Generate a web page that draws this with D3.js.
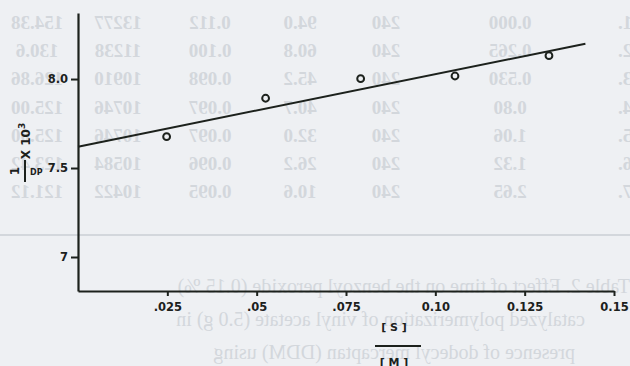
<!DOCTYPE html>
<html>
<head>
<meta charset="utf-8">
<script src="https://cdn.jsdelivr.net/npm/d3@7"></script>
<style>
  html, body { margin: 0; padding: 0; background: #eef0f3; }
  #chart { width: 630px; height: 366px; }
</style>
</head>
<body>
<div id="chart"></div>
<script>
// values
const sOverM = [0.0248, 0.0525, 0.0791, 0.1055, 0.1318];
const invDP = [7.676, 7.892, 8.002, 8.017, 8.131];

// fitted straight line, end points
const fitX = [0, 0.142];
const fitY = [7.62, 8.198];

const xTicks = [0.025, 0.05, 0.075, 0.10, 0.125, 0.15];
const xTickLabels = ['.025', '.05', '.075', '0.10', '0.125', '0.15'];
const yTicks = [7, 7.5, 8];
const yTickLabels = ['7', '7.5', '8.0'];

// show-through from the back of the page (mirrored)
const backRows = [
	['1.', '0.000', '240', '94.0', '0.112', '13277', '154.38'],
	['2.', '0.265', '240', '60.8', '0.100', '11238', '130.6'],
	['3.', '0.530', '240', '45.2', '0.098', '10910', '126.86'],
	['4.', '0.80', '240', '40.7', '0.097', '10746', '125.00'],
	['5.', '1.06', '240', '32.0', '0.097', '10746', '125.00'],
	['6.', '1.32', '240', '26.2', '0.096', '10584', '123.42'],
	['7.', '2.65', '240', '10.6', '0.095', '10422', '121.12']
];
const backCaption = [
	'Table 2. Effect of time on the benzoyl peroxide (0.15 %)',
	'catalyzed polymerization of vinyl acetate (5.0 g) in',
	'presence of dodecyl mercaptan (DDM) using'
];

const width = 630;
const height = 366;
const ink = '#1c211c';
const faint = '#d3d7dc';

const svg = d3.select('#chart')
	.append('svg')
	.attr('width', width)
	.attr('height', height);

svg.append('rect')
	.attr('width', width)
	.attr('height', height)
	.attr('fill', '#eef0f3');

// faint mirrored page behind
const back = svg.append('g')
	.attr('transform', `translate(${width},0) scale(-1,1)`)
	.attr('fill', faint)
	.style('font-family', '"Liberation Serif", "DejaVu Serif", serif')
	.style('font-weight', 'bold');

const colX = [5, 120, 244, 330, 420, 512, 593];
backRows.forEach((row, i) => {
	row.forEach((cell, j) => {
		back.append('text')
			.attr('x', colX[j])
			.attr('y', 29 + i * 28.2)
			.attr('text-anchor', 'middle')
			.style('font-size', '19px')
			.text(cell);
	});
});

back.append('line')
	.attr('x1', 0).attr('x2', width)
	.attr('y1', 235).attr('y2', 235)
	.attr('stroke', faint)
	.attr('stroke-width', 2);

const capX = [0, 45, 55];
backCaption.forEach((line, i) => {
	back.append('text')
		.attr('x', capX[i])
		.attr('y', 293 + i * 33)
		.style('font-size', '20px')
		.style('font-weight', 'normal')
		.text(line);
});

const xScale = d3.scaleLinear()
	.domain([0, 0.15])
	.range([78, 614]);

const yScale = d3.scaleLinear()
	.domain([6.809, 8.371])
	.range([291, 13]);

const xAxis = svg.append('g')
	.attr('transform', `translate(0,${yScale(6.809)})`)
	.call(d3.axisBottom(xScale)
		.tickValues(xTicks)
		.tickFormat((d, i) => xTickLabels[i])
		.tickSize(5)
		.tickSizeOuter(0)
		.tickPadding(7));

const yAxis = svg.append('g')
	.attr('transform', `translate(${xScale(0)},0)`)
	.call(d3.axisLeft(yScale)
		.tickValues(yTicks)
		.tickFormat((d, i) => yTickLabels[i])
		.tickSize(7)
		.tickSizeOuter(0)
		.tickPadding(3));

[xAxis, yAxis].forEach(ax => {
	ax.select('.domain').attr('stroke', ink).attr('stroke-width', 2.2);
	ax.selectAll('.tick line').attr('stroke', ink).attr('stroke-width', 2);
	ax.selectAll('.tick text')
		.attr('fill', ink)
		.style('font-family', '"DejaVu Sans", sans-serif')
		.style('font-weight', 'bold')
		.style('font-size', '11.5px');
});

const line = d3.line()
	.x(d => xScale(d[0]))
	.y(d => yScale(d[1]));

svg.append('path')
	.attr('d', line(d3.zip(fitX, fitY)))
	.attr('fill', 'none')
	.attr('stroke', ink)
	.attr('stroke-width', 2);

svg.selectAll('circle.pt')
	.data(d3.zip(sOverM, invDP))
	.enter()
	.append('circle')
	.attr('class', 'pt')
	.attr('cx', d => xScale(d[0]))
	.attr('cy', d => yScale(d[1]))
	.attr('r', 3.4)
	.attr('fill', 'none')
	.attr('stroke', ink)
	.attr('stroke-width', 2);

// y label: 1/DP x 10^3
const labelFont = '"DejaVu Sans", sans-serif';

svg.append('text')
	.attr('transform', 'translate(19,171) rotate(-90)')
	.attr('text-anchor', 'middle')
	.attr('fill', ink)
	.style('font-family', labelFont)
	.style('font-weight', 'bold')
	.style('font-size', '12px')
	.text('1');

svg.append('line')
	.attr('x1', 25).attr('x2', 25)
	.attr('y1', 160).attr('y2', 182)
	.attr('stroke', ink)
	.attr('stroke-width', 2);

svg.append('text')
	.attr('x', 30)
	.attr('y', 175)
	.attr('fill', ink)
	.style('font-family', labelFont)
	.style('font-weight', 'bold')
	.style('font-size', '8px')
	.text('DP');

const ylab = svg.append('text')
	.attr('transform', 'translate(30,141) rotate(-90)')
	.attr('text-anchor', 'middle')
	.attr('fill', ink)
	.style('font-family', labelFont)
	.style('font-weight', 'bold')
	.style('font-size', '12px');
ylab.append('tspan').text('X 10');
ylab.append('tspan').attr('dy', -5).style('font-size', '9px').text('3');

// x label: [S]/[M]
svg.append('text')
	.attr('x', 394)
	.attr('y', 331)
	.attr('text-anchor', 'middle')
	.attr('fill', ink)
	.style('font-family', labelFont)
	.style('font-weight', 'bold')
	.style('font-size', '11px')
	.text('[ S ]');

svg.append('line')
	.attr('x1', 375).attr('x2', 421)
	.attr('y1', 346).attr('y2', 346)
	.attr('stroke', ink)
	.attr('stroke-width', 1.8);

svg.append('text')
	.attr('x', 394)
	.attr('y', 366)
	.attr('text-anchor', 'middle')
	.attr('fill', ink)
	.style('font-family', labelFont)
	.style('font-weight', 'bold')
	.style('font-size', '11px')
	.text('[ M ]');
</script>
</body>
</html>
